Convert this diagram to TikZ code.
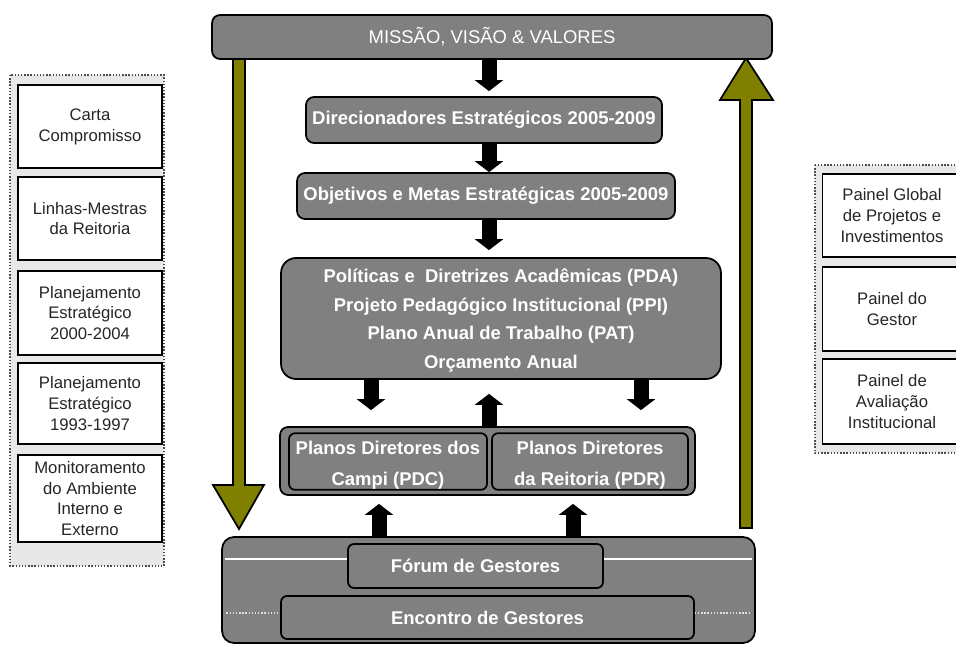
\documentclass[tikz,border=0pt]{standalone}
\usepackage{fontspec}
\setmainfont{Liberation Sans}
\usetikzlibrary{arrows.meta}

\definecolor{boxgray}{RGB}{128,128,128}
\definecolor{arrowolive}{RGB}{128,128,0}
\definecolor{panelgray}{RGB}{232,232,232}

\tikzset{
    graybox/.style={draw=black, line width=1pt, fill=boxgray, rounded corners=0.16cm,
        text=white, font=\bfseries\fontsize{10.5}{16}\selectfont, align=center, inner sep=0pt},
    sidebox/.style={draw=black, line width=0.6pt, fill=white, text=black!85,
        font=\fontsize{9.5}{11.9}\selectfont, align=center, inner sep=0pt, minimum width=2.88cm},
    flow/.style={line width=0.3cm, -{Triangle[width=0.56cm,length=0.22cm]}},
    olivearrow/.style={draw=black, line width=1pt, fill=arrowolive},
    panel/.style={draw=black!70, densely dotted, line width=0.8pt, fill=panelgray}
}

\begin{document}
\begin{tikzpicture}[x=0.02cm, y=-0.02cm]
    \useasboundingbox (0,0) rectangle (956,645);

    % Side panels
    \draw[panel] (10,75) rectangle (164,566);
    \draw[panel] (815,165) rectangle (975,453);

    \node[sidebox, minimum height=1.66cm] (carta) at (90,126.5) {Carta\\Compromisso};
    \node[sidebox, minimum height=1.66cm] (linhas) at (90,218.5) {Linhas-Mestras\\da Reitoria};
    \node[sidebox, minimum height=1.68cm] (pe2000) at (90,313) {Planejamento\\Estratégico\\2000-2004};
    \node[sidebox, minimum height=1.62cm] (pe1993) at (90,403.5) {Planejamento\\Estratégico\\1993-1997};
    \node[sidebox, minimum height=1.74cm] (monitor) at (90,498.5) {Monitoramento\\do Ambiente\\Interno e\\Externo};

    \node[sidebox, minimum width=2.78cm, minimum height=1.66cm] (pglobal) at (892,215.5) {Painel Global\\de Projetos e\\Investimentos};
    \node[sidebox, minimum width=2.78cm, minimum height=1.68cm] (pgestor) at (892,309) {Painel do\\Gestor};
    \node[sidebox, minimum width=2.78cm, minimum height=1.70cm] (paval) at (892,401.5) {Painel de\\Avaliação\\Institucional};

    % Olive arrows
    \draw[olivearrow] (233,59) -- (233,485) -- (213,485) -- (239,529) -- (264,485) -- (245,485) -- (245,59) -- cycle;
    \draw[olivearrow] (740,528) -- (740,100) -- (720,100) -- (746,58) -- (773,100) -- (752,100) -- (752,528) -- cycle;

    % Main column
    \node[graybox, font=\fontsize{10.5}{16}\selectfont, minimum width=11.2cm, minimum height=0.88cm] (missao) at (492,37) {MISSÃO, VISÃO \& VALORES};
    \node[graybox, minimum width=7.12cm, minimum height=0.92cm] (direc) at (484,120) {Direcionadores Estratégicos 2005-2009};
    \node[graybox, minimum width=7.56cm, minimum height=0.92cm] (objet) at (486,196) {Objetivos e Metas Estratégicas 2005-2009};
    \node[graybox, rounded corners=0.3cm, minimum width=8.8cm, minimum height=2.42cm,
        font=\bfseries\fontsize{10.5}{16.2}\selectfont] (politicas) at (501,318.5)
        {\rule{0pt}{10pt}Políticas e~ Diretrizes Acadêmicas (PDA)\\Projeto Pedagógico Institucional (PPI)\\Plano Anual de Trabalho (PAT)\\Orçamento Anual};

    % Planos diretores
    \node[graybox, minimum width=8.3cm, minimum height=1.36cm] (planos) at (487.5,461) {};
    \node[graybox, rounded corners=0.12cm, minimum width=3.96cm, minimum height=1.06cm,
        font=\bfseries\fontsize{10.5}{18}\selectfont] (pdc) at (388,461.5) {\rule{0pt}{12pt}Planos Diretores dos\\Campi (PDC)};
    \node[graybox, rounded corners=0.12cm, minimum width=3.92cm, minimum height=1.06cm,
        font=\bfseries\fontsize{10.5}{18}\selectfont] (pdr) at (590,461.5) {\rule{0pt}{12pt}Planos Diretores\\da Reitoria (PDR)};

    % Gestores
    \node[graybox, rounded corners=0.24cm, minimum width=10.66cm, minimum height=2.12cm] (base) at (488.5,590) {};
    \node[graybox, rounded corners=0.12cm, minimum width=5.1cm, minimum height=0.88cm] (forum) at (475.5,566) {Fórum de Gestores};
    \node[graybox, rounded corners=0.12cm, minimum width=8.26cm, minimum height=0.86cm] (encontro) at (487.5,617.5) {Encontro de Gestores};

    \coordinate (fline) at (0,559);
    \coordinate (eline) at (0,613);
    \draw[white, line width=0.8pt, shorten <=2pt] (base.west |- fline) -- (forum.west |- fline);
    \draw[white, line width=0.8pt, shorten >=2pt] (forum.east |- fline) -- (base.east |- fline);
    \draw[white!75!gray, densely dotted, line width=0.8pt, shorten <=3pt] (base.west |- eline) -- (encontro.west |- eline);
    \draw[white!75!gray, densely dotted, line width=0.8pt, shorten >=3pt] (encontro.east |- eline) -- (base.east |- eline);

    % Black arrows
    \coordinate (cmid) at (489,0);
    \coordinate (cleft) at (371,0);
    \coordinate (cright) at (641,0);
    \coordinate (cpdc) at (379,0);
    \coordinate (cpdr) at (573,0);
    \draw[flow, shorten >=0.1cm] (missao.south -| cmid) -- (direc.north -| cmid);
    \draw[flow] (direc.south -| cmid) -- (objet.north -| cmid);
    \draw[flow, shorten >=0.14cm] (objet.south -| cmid) -- (politicas.north -| cmid);
    \draw[flow, shorten >=0.32cm] (politicas.south -| cleft) -- (planos.north -| cleft);
    \draw[flow, shorten >=0.32cm] (politicas.south -| cright) -- (planos.north -| cright);
    \draw[flow, shorten >=0.28cm] (planos.north -| cmid) -- (politicas.south -| cmid);
    \draw[flow, shorten >=0.16cm] (base.north -| cpdc) -- (planos.south -| cpdc);
    \draw[flow, shorten >=0.16cm] (base.north -| cpdr) -- (planos.south -| cpdr);
\end{tikzpicture}
\end{document}
